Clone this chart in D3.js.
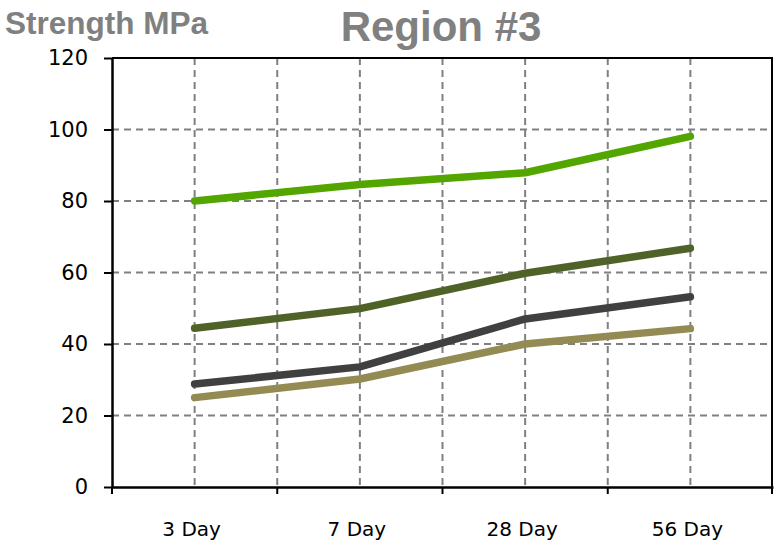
<!DOCTYPE html>
<html>
<head>
<meta charset="utf-8">
<script src="https://cdn.jsdelivr.net/npm/d3@7/dist/d3.min.js"></script>
<style>
  html, body { margin: 0; padding: 0; background: #fff; }
  svg { display: block; }
</style>
</head>
<body>
<svg id="chart" width="774" height="542"></svg>
<script>
// Curing ages along the x axis
const categories = ["3 Day", "7 Day", "28 Day", "56 Day"];

// Compressive strength (MPa) for each mix
const mixA = [80.0, 84.6, 87.9, 98.1];
const mixB = [44.4, 49.9, 59.8, 66.8];
const mixC = [28.8, 33.6, 47.0, 53.2];
const mixD = [25.0, 30.2, 40.0, 44.3];

const seriesList = [mixA, mixB, mixC, mixD];
const seriesColors = ["#53a600", "#4f6228", "#404040", "#948a54"];

const yTicks = [0, 20, 40, 60, 80, 100, 120];

const svg = d3.select("#chart");
const plotLeft = 112, plotRight = 773, plotTop = 58, plotBottom = 487;

const x = d3.scaleBand().domain(categories).range([plotLeft, plotRight]).padding(0);
const y = d3.scaleLinear().domain([0, 120]).range([plotBottom, plotTop]);
const cx = d => x(d) + x.bandwidth() / 2;

// Dashed grid: horizontal at each value tick, vertical at centres and edges
const grid = svg.append("g")
  .attr("stroke", "#808080")
  .attr("stroke-width", 2)
  .attr("stroke-dasharray", "7,5");

grid.selectAll("line.h")
  .data(yTicks.filter(v => v > 0 && v < 120))
  .join("line")
  .attr("x1", plotLeft).attr("x2", plotRight)
  .attr("y1", d => y(d)).attr("y2", d => y(d));

const vPositions = [];
categories.forEach((c, i) => {
  if (i > 0) vPositions.push(x(c));
  vPositions.push(cx(c));
});
grid.selectAll("line.v")
  .data(vPositions)
  .join("line")
  .attr("x1", d => d).attr("x2", d => d)
  .attr("y1", plotTop).attr("y2", plotBottom);

// Frame on top and right
svg.append("line")
  .attr("x1", plotLeft).attr("x2", plotRight).attr("y1", plotTop).attr("y2", plotTop)
  .attr("stroke", "#000").attr("stroke-width", 2);
svg.append("line")
  .attr("x1", plotRight - 1).attr("x2", plotRight - 1).attr("y1", plotTop).attr("y2", plotBottom + 7)
  .attr("stroke", "#000").attr("stroke-width", 2);

// Y axis
const yAxis = svg.append("g")
  .attr("transform", `translate(${plotLeft},0)`)
  .call(d3.axisLeft(y).tickValues(yTicks).tickSize(8).tickPadding(16).tickSizeOuter(0));
yAxis.select(".domain").attr("stroke", "#000").attr("stroke-width", 2.5);
yAxis.selectAll(".tick line").attr("stroke", "#000").attr("stroke-width", 2);
yAxis.selectAll(".tick text")
  .attr("fill", "#000")
  .style("font-family", "'DejaVu Sans', Verdana, sans-serif")
  .style("font-size", "21px");

// X axis: tick marks at category boundaries, labels at centres
const xAxis = svg.append("g")
  .attr("transform", `translate(0,${plotBottom})`)
  .call(d3.axisBottom(x).tickSize(0).tickPadding(35).tickSizeOuter(0));
xAxis.select(".domain").attr("stroke", "#000").attr("stroke-width", 2.5);
xAxis.selectAll(".tick text")
  .attr("fill", "#000")
  .attr("dx", -3)
  .style("font-family", "'DejaVu Sans', Verdana, sans-serif")
  .style("font-size", "20px");

const bounds = categories.map(c => x(c)).concat([plotRight - 1]);
svg.append("g").selectAll("line")
  .data(bounds)
  .join("line")
  .attr("x1", d => d).attr("x2", d => d)
  .attr("y1", plotBottom).attr("y2", plotBottom + 7)
  .attr("stroke", "#000").attr("stroke-width", 2);

// Series lines
const line = d3.line()
  .x((d, i) => cx(categories[i]))
  .y(d => y(d));

svg.append("g").selectAll("path")
  .data(seriesList)
  .join("path")
  .attr("d", d => line(d))
  .attr("fill", "none")
  .attr("stroke", (d, i) => seriesColors[i])
  .attr("stroke-width", 7.5)
  .attr("stroke-linecap", "round")
  .attr("stroke-linejoin", "round");

// Titles
svg.append("text")
  .attr("x", 5).attr("y", 34)
  .attr("fill", "#808080")
  .style("font-family", "'Liberation Sans', Arial, sans-serif")
  .style("font-weight", "bold")
  .style("font-size", "31.5px")
  .text("Strength MPa");

svg.append("text")
  .attr("x", 441).attr("y", 41)
  .attr("text-anchor", "middle")
  .attr("fill", "#808080")
  .style("font-family", "'Liberation Sans', Arial, sans-serif")
  .style("font-weight", "bold")
  .style("font-size", "42px")
  .text("Region #3");
</script>
</body>
</html>
